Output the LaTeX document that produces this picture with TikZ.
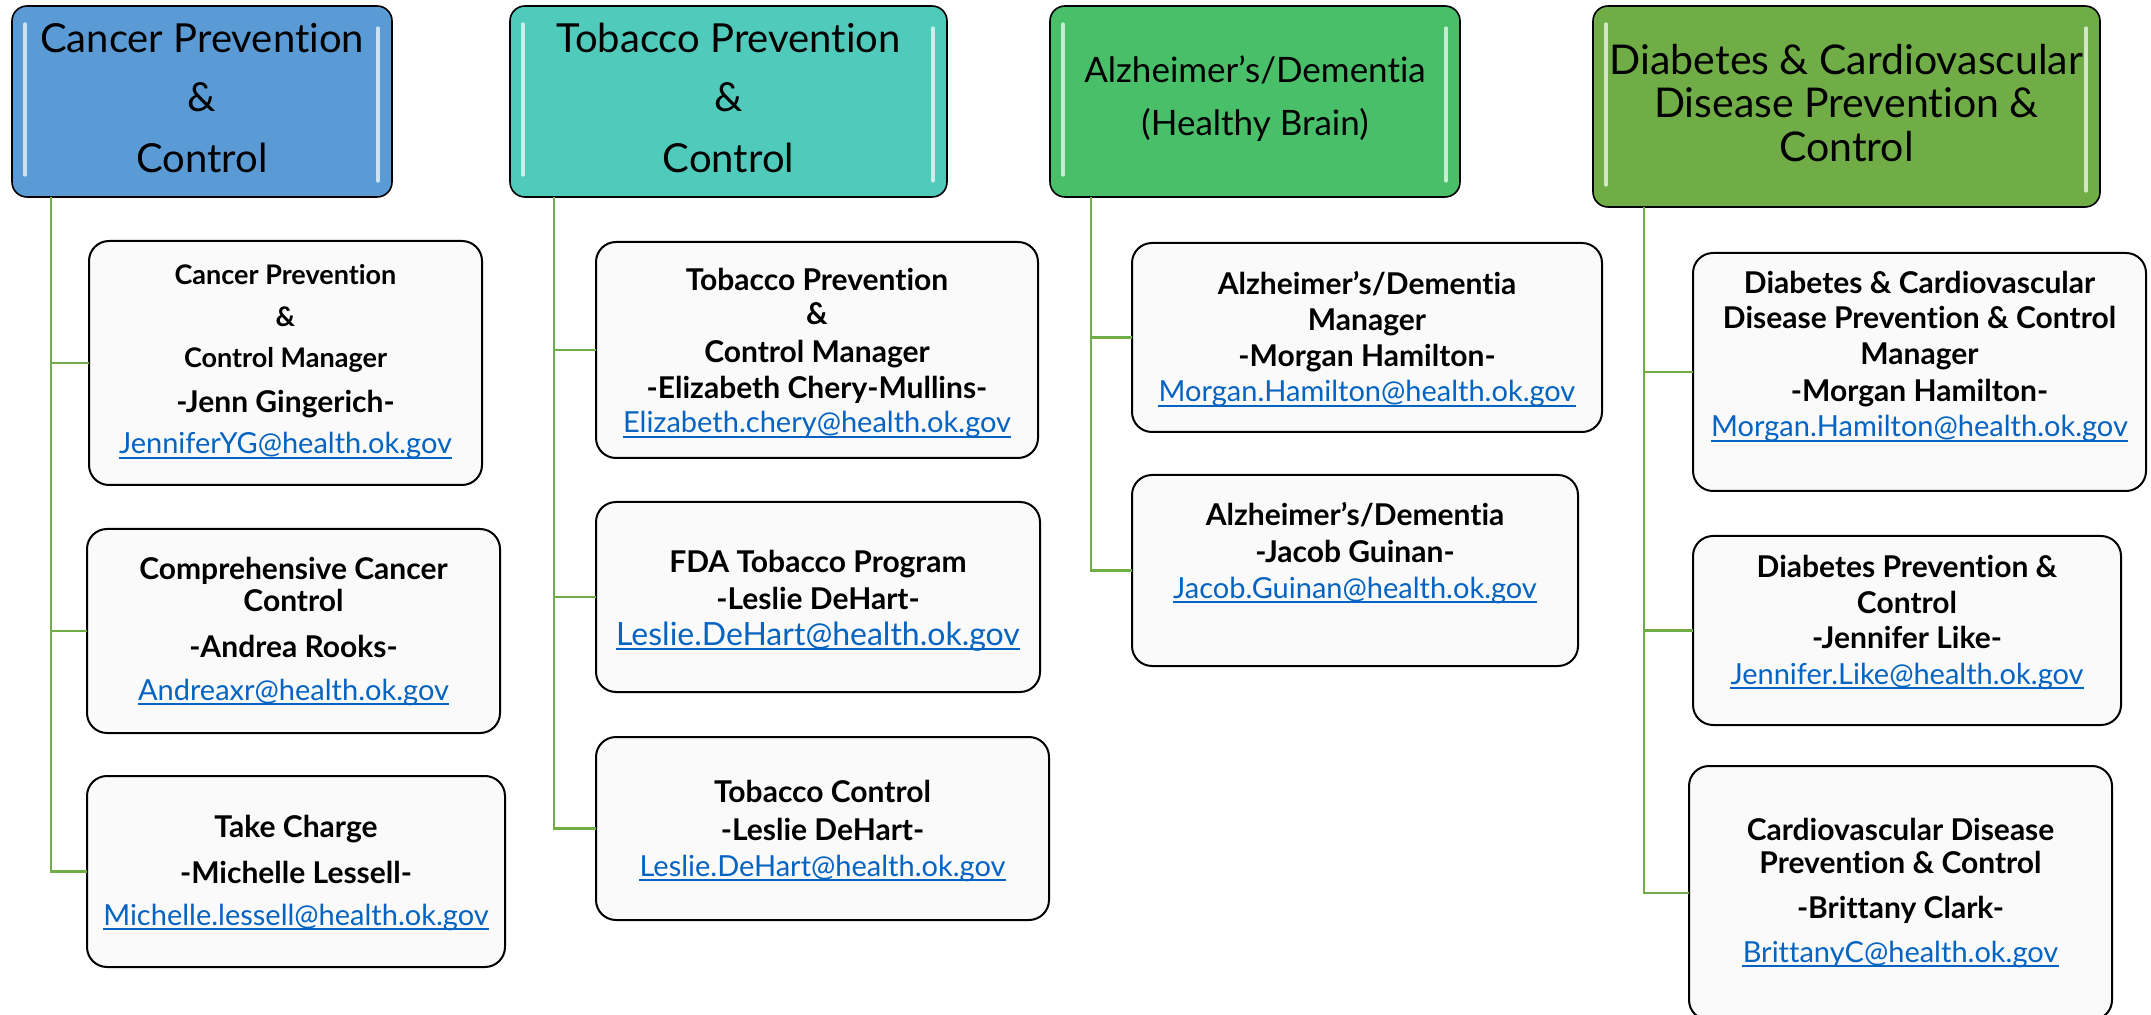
\documentclass[tikz,border=0pt]{standalone}
\usepackage{fontspec}
\setmainfont[Ligatures={NoCommon},RawFeature={-liga;-dlig}]{Lato}
\definecolor{hdrA}{HTML}{5B9BD5}
\definecolor{hdrB}{RGB}{80,203,187}
\definecolor{hdrC}{RGB}{73,191,106}
\definecolor{hdrD}{HTML}{70AD47}
\definecolor{conncol}{HTML}{70AD47}
\definecolor{mailcol}{HTML}{0563C1}
\definecolor{kidfill}{HTML}{FAFAFA}
\begin{document}
\begin{tikzpicture}[x=0.5pt,y=-0.5pt,
  hdrbox/.style={draw=black, line width=0.8pt, rounded corners=7.5pt, inner sep=0pt, outer sep=0pt},
  kidbox/.style={draw=black, line width=1pt, rounded corners=10pt, fill=kidfill, inner sep=0pt, outer sep=0pt},
  conn/.style={draw=conncol, line width=1.25pt},
  hl/.style={line width=1.6pt, line cap=round},
  hd/.style={anchor=base, inner sep=0pt, font=\fontsize{20}{24}\selectfont},
  tl/.style={anchor=base, inner sep=0pt, font=\bfseries\fontsize{15}{18}\selectfont},
  tls/.style={anchor=base, inner sep=0pt, font=\bfseries\fontsize{13.5}{16}\selectfont},
  ml/.style={anchor=base, inner sep=0pt, text=mailcol, font=\fontsize{14.5}{18}\selectfont,
    append after command={([yshift=-2pt]\tikzlastnode.base west) edge[draw=mailcol, line width=0.8pt] ([yshift=-2pt]\tikzlastnode.base east)}}
]
\useasboundingbox (0,0) rectangle (2151,1015);

% ---------- headers ----------
\node[hdrbox, fill=hdrA, minimum width=190pt, minimum height=95.5pt] (h1) at (202,101.5) {};
\node[hdrbox, fill=hdrB, minimum width=218.5pt, minimum height=95.5pt] (h2) at (728.5,101.5) {};
\node[hdrbox, fill=hdrC, minimum width=205pt, minimum height=95.5pt] (h3) at (1255,101.5) {};
\node[hdrbox, fill=hdrD, minimum width=253.5pt, minimum height=100.5pt] (h4) at (1846.5,106.5) {};

\foreach \h/\c in {h1/hdrA,h2/hdrB,h3/hdrC,h4/hdrD}{
  \draw[hl, draw=white!70!\c] ([xshift=6.5pt,yshift=-9pt]\h.north west) -- ([xshift=6.5pt,yshift=11pt]\h.south west);
  \draw[hl, draw=white!70!\c] ([xshift=-7pt,yshift=-11pt]\h.north east) -- ([xshift=-7pt,yshift=8pt]\h.south east);
}

\node[hd] (h1a) at (202,53) {Cancer Prevention};
\node[hd] (h1b) at (202,112) {\&};
\node[hd] (h1c) at (202,173) {Control};
\node[hd] (h2a) at (728.5,53) {Tobacco Prevention};
\node[hd] (h2b) at (728.5,112) {\&};
\node[hd] (h2c) at (728.5,173) {Control};
\node[hd, font=\fontsize{17.5}{20}\selectfont] (h3a) at (1255,83) {Alzheimer’s/Dementia};
\node[hd, font=\fontsize{17.5}{20}\selectfont] (h3b) at (1255,136) {(Healthy Brain)};
\node[hd, font=\fontsize{20.5}{24}\selectfont] (h4a) at (1846.5,75) {Diabetes \& Cardiovascular};
\node[hd, font=\fontsize{20.5}{24}\selectfont] (h4b) at (1846.5,118) {Disease Prevention \&};
\node[hd, font=\fontsize{20.5}{24}\selectfont] (h4c) at (1846.5,162) {Control};

% ---------- child boxes ----------
\node[kidbox, minimum width=196.5pt, minimum height=122pt] (c1a) at (285.5,363) {};
\node[kidbox, minimum width=206.5pt, minimum height=102pt] (c1b) at (293.5,631) {};
\node[kidbox, minimum width=209pt, minimum height=95.5pt] (c1c) at (296,871.5) {};
\node[kidbox, minimum width=221pt, minimum height=108pt] (c2a) at (817,350) {};
\node[kidbox, minimum width=222pt, minimum height=95pt] (c2b) at (818,597) {};
\node[kidbox, minimum width=226.5pt, minimum height=91.5pt] (c2c) at (822.5,828.5) {};
\node[kidbox, minimum width=235pt, minimum height=94.5pt] (c3a) at (1367,337.5) {};
\node[kidbox, minimum width=223pt, minimum height=95.5pt] (c3b) at (1355,570.5) {};
\node[kidbox, minimum width=226.5pt, minimum height=119pt] (c4a) at (1919.5,372) {};
\node[kidbox, minimum width=214pt, minimum height=94.5pt] (c4b) at (1907,630.5) {};
\node[kidbox, minimum width=211.5pt, minimum height=127pt] (c4c) at (1900.5,893) {};

% ---------- connectors ----------
\coordinate (v1) at (51,197);
\coordinate (v2) at (554,197);
\coordinate (v3) at (1091,197);
\coordinate (v4) at (1644,207);
\foreach \k in {c1a,c1b,c1c}{\draw[conn] (v1) |- (\k.west);}
\foreach \k in {c2a,c2b,c2c}{\draw[conn] (v2) |- (\k.west);}
\foreach \k in {c3a,c3b}{\draw[conn] (v3) |- (\k.west);}
\foreach \k in {c4a,c4b,c4c}{\draw[conn] (v4) |- (\k.west);}

% ---------- texts ----------
\node[tls] (t1a1) at (285.5,285) {Cancer Prevention};
\node[tls] (t1a2) at (285.5,327) {\&};
\node[tls] (t1a3) at (285.5,368) {Control Manager};
\node[tl] (t1a4) at (285.5,413) {-Jenn Gingerich-};
\node[ml] (t1a5) at (285.5,454) {JenniferYG@health.ok.gov};

\node[tl] (t1b1) at (293.5,579) {Comprehensive Cancer};
\node[tl] (t1b2) at (293.5,611) {Control};
\node[tl] (t1b3) at (293.5,657) {-Andrea Rooks-};
\node[ml] (t1b4) at (293.5,700) {Andreaxr@health.ok.gov};

\node[tl] (t1c1) at (296,837) {Take Charge};
\node[tl] (t1c2) at (296,883) {-Michelle Lessell-};
\node[ml] (t1c3) at (296,925) {Michelle.lessell@health.ok.gov};

\node[tl] (t2a1) at (817,291) {Tobacco Prevention};
\node[tl] (t2a2) at (817,325) {\&};
\node[tl] (t2a3) at (817,363) {Control Manager};
\node[tl] (t2a4) at (817,399) {-Elizabeth Chery-Mullins-};
\node[ml] (t2a5) at (817,433) {Elizabeth.chery@health.ok.gov};

\node[tl] (t2b1) at (818,572) {FDA Tobacco Program};
\node[tl] (t2b2) at (818,609) {-Leslie DeHart-};
\node[ml, font=\fontsize{16}{19}\selectfont] (t2b3) at (818,645) {Leslie.DeHart@health.ok.gov};

\node[tl] (t2c1) at (822.5,802) {Tobacco Control};
\node[tl] (t2c2) at (822.5,840) {-Leslie DeHart-};
\node[ml] (t2c3) at (822.5,876) {Leslie.DeHart@health.ok.gov};

\node[tl] (t3a1) at (1367,295) {Alzheimer’s/Dementia};
\node[tl] (t3a2) at (1367,331) {Manager};
\node[tl] (t3a3) at (1367,367) {-Morgan Hamilton-};
\node[ml] (t3a4) at (1367,402) {Morgan.Hamilton@health.ok.gov};

\node[tl] (t3b1) at (1355,525) {Alzheimer’s/Dementia};
\node[tl] (t3b2) at (1355,562) {-Jacob Guinan-};
\node[ml] (t3b3) at (1355,598) {Jacob.Guinan@health.ok.gov};

\node[tl] (t4a1) at (1919.5,294) {Diabetes \& Cardiovascular};
\node[tl] (t4a2) at (1919.5,329) {Disease Prevention \& Control};
\node[tl] (t4a3) at (1919.5,365) {Manager};
\node[tl] (t4a4) at (1919.5,402) {-Morgan Hamilton-};
\node[ml] (t4a5) at (1919.5,437) {Morgan.Hamilton@health.ok.gov};

\node[tl] (t4b1) at (1907,577) {Diabetes Prevention \&};
\node[tl] (t4b2) at (1907,613) {Control};
\node[tl] (t4b3) at (1907,648) {-Jennifer Like-};
\node[ml] (t4b4) at (1907,684) {Jennifer.Like@health.ok.gov};

\node[tl] (t4c1) at (1900.5,840) {Cardiovascular Disease};
\node[tl] (t4c2) at (1900.5,873) {Prevention \& Control};
\node[tl] (t4c3) at (1900.5,918) {-Brittany Clark-};
\node[ml] (t4c4) at (1900.5,962) {BrittanyC@health.ok.gov};
\end{tikzpicture}
\end{document}
